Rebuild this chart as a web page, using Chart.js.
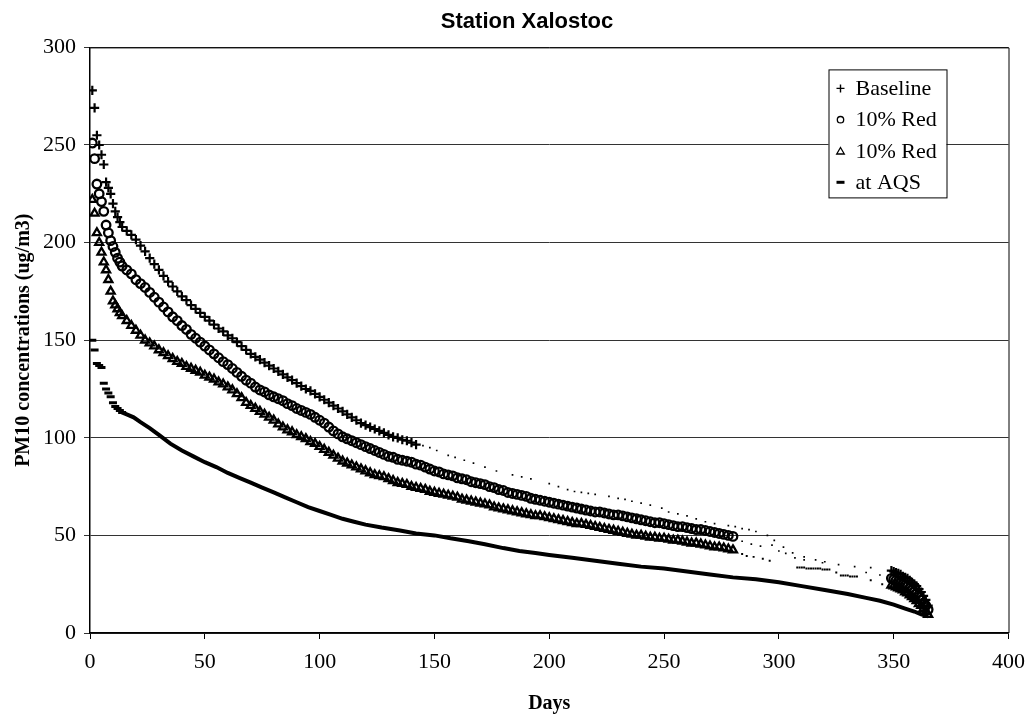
<!DOCTYPE html>
<html>
<head>
<meta charset="utf-8">
<title>Station Xalostoc</title>
<script src="https://cdn.jsdelivr.net/npm/chart.js@4.4.1/dist/chart.umd.min.js"></script>
<style>
  html, body { margin: 0; padding: 0; background: #fff; }
</style>
</head>
<body>
<canvas id="chart" width="1035" height="716"></canvas>
<script>
// ticks
var xTicks = [0, 50, 100, 150, 200, 250, 300, 350, 400];
var yTicks = [0, 50, 100, 150, 200, 250, 300];

// Baseline (+)
var baselineDays = [1,2,3,4,5,6,7,8,9,10,11,12,13,14,
  16,18,20,22,24,26,28,30,32,34,36,38,40,42,44,46,48,50,52,54,56,58,60,62,64,66,68,70,72,74,76,78,80,
  82,84,86,88,90,92,94,96,98,100,102,104,106,108,110,112,114,116,118,120,122,124,126,128,130,132,134,136,138,140,142,
  145,148,151,156,159,163,167,172,177,184,188,192,200,204,208,211,214,217,220,226,230,233,236,240,244,249,252,256,260,264,
  268,272,278,281,284,287,290,295,298,302,306,311,316,320,326,333,340,
  349,350,351,352,353,354,355,356,357,358,359,360,361,362,363,364,365];
var baselineValues = [278,269,255,250,245,240,231,228,225,220,216,213,210.5,208,
  206,204,201.5,198.5,195.5,192,189,186,183,180,177.5,175,172.5,170.5,168,166,164,162,160,158,156,154.5,152.5,151,149,147,145,143,141.5,140,138.5,137,135.5,
  134,132.5,131,129.5,128,126.5,125,124,122.5,121,119.5,118,116.5,115,113.5,112,110.5,109,107.5,106.5,105.5,104.5,103.5,102.5,101.5,100.5,100,99,98.5,97.5,96.5,
  96,95,93.5,91,90,88.5,87,85,83,81,80,79,76.5,75,73.5,72.5,72,71.5,71,70,69,68.5,67.5,66.5,65.5,64,62,61,60,58.5,
  57,56,55,54.5,53.5,53,52,50,47.5,44,41,39,37.5,36.5,35,34,33.5,
  32,31.5,31,30.5,30,29,28.5,28,27,26,25,24,22.5,21,19,17,14];

// 10% Red (o)
var redCircleDays = [1,2,3,4,5,6,7,8,9,10,11,12,13,14,
  16,18,20,22,24,26,28,30,32,34,36,38,40,42,44,46,48,50,52,54,56,58,60,62,64,66,68,70,72,74,76,78,80,82,84,86,88,90,92,94,96,98,
  100,102,104,106,108,110,112,114,116,118,120,122,124,126,128,130,132,134,136,138,140,142,144,146,148,150,152,154,156,158,160,
  162,164,166,168,170,172,174,176,178,180,182,184,186,188,190,192,194,196,198,200,202,204,206,208,210,212,214,216,218,220,
  222,224,226,228,230,232,234,236,238,240,242,244,246,248,250,252,254,256,258,260,262,264,266,268,270,272,274,276,278,280,
  284,288,292,297,300,303,307,311,319,338,344,
  349,350,351,352,353,354,355,356,357,358,359,360,361,362,363,364,365];
var redCircleValues = [251,243,230,225,221,216,209,205,201,198,195,192,190,188,
  186,184,181,179,177,174.5,172,169.5,167,164.5,162,160,157.5,155.5,153,151,149,147,145,143,141,139,137.5,135.5,133.5,131.5,129.5,128,126,124.5,
  123.5,122,121,120,119,117.5,116.5,115,114,113,112,110.5,109,107.5,105.5,103.5,102,100.5,99.5,98.5,97.5,96.5,95.5,94.5,93.5,92.5,91.5,90.5,90,89,
  88.5,88,87.5,86.5,86,85,84,83,82.5,81.5,81,80.5,79.5,79,78.5,77.5,77,76.5,76,75,74.5,73.5,73,72,71.5,71,70.5,70,69,68.5,
  68,67.5,67,66.5,66,65.5,65,64.5,64,63.5,63,62.5,62,62,61.5,61,60.5,60.5,60,59.5,59,58.5,58,57.5,57,56.5,56.5,56,55.5,55,
  54.5,54.5,54,53.5,53,53,52.5,52,51.5,51,50.5,50,49.5,
  47,45.5,44.5,45,42,40.8,38.5,37.5,36,31,29.7,
  28,27.5,27,26.5,26,25,24.5,24,23,22,21,20,18.5,17,15.5,14,12];

// 10% Red (triangle)
var redTriangleDays = [1,2,3,4,5,6,7,8,9,10,11,12,13,14,
  16,18,20,22,24,26,28,30,32,34,36,38,40,42,44,46,48,50,52,54,56,58,60,62,64,66,68,70,72,74,76,78,80,82,84,86,88,90,92,94,96,98,
  100,102,104,106,108,110,112,114,116,118,120,122,124,126,128,130,132,134,136,138,140,142,144,146,148,150,152,154,156,158,160,
  162,164,166,168,170,172,174,176,178,180,182,184,186,188,190,192,194,196,198,200,202,204,206,208,210,212,214,216,218,220,
  222,224,226,228,230,232,234,236,238,240,242,244,246,248,250,252,254,256,258,260,262,264,266,268,270,272,274,276,278,280,
  284,286,289,293,296,308,309,310,311,312,313,314,315,316,317,318,319,320,321,322,325,327,328,329,330,331,332,333,334,340,345,
  349,350,351,352,353,354,355,356,357,358,359,360,361,362,363,364,365];
var redTriangleValues = [222,215,205,200,195,190,186,181,175,170,168,166,164,162.5,
  160,157.5,155,152.5,150,148.5,147,145,143.5,142,140.5,139,138,136.5,135.5,134.5,133.5,132,131,130,128.5,127.5,126,124.5,122.5,120.5,118,116.5,115,113.5,
  112,110.5,109,107,105.5,104,103,101.5,100.5,99.5,98,97,95.5,94,92.5,91,89.5,88,87,86,85,84,83,82,81,80.5,80,79,78,77,
  76.5,76,75,74.5,74,73.5,72.5,72,71.5,71,70.5,70,69.5,68.5,68,67.5,67,66.5,66,65.5,64.5,64,63.5,63,62.5,62,61.5,61,60.5,60,
  60,59.5,59,58.5,58,57.5,57,56.5,56,56,55.5,55,54.5,54,53.5,53,52.5,52,51.5,51,50.5,50,50,49.5,49,49,48.5,48.5,48,47.5,
  47.5,47,46.5,46,46,45.5,45,44.5,44,44,43.5,43,42.5,
  40.5,39.5,39,38,37,33.5,33.5,33.5,33.5,33,33,33,33,33,33,33,32.5,32.5,32.5,32.5,31,29.5,29.5,29.5,29.5,29,29,29,29,27,25,
  24.5,24,23.5,23,22.5,22,21,20.5,19.5,18.5,17.5,16.5,15,14,12.5,11,9.5];

// at AQS (-)
var aqsDays = [1,2,3,4,5,6,7,8,9,10,11,12,13,14,16,19,22,26,30,35,40,45,50,55,60,65,70,75,80,85,90,95,100,105,110,115,120,
  127,135,142,150,157,165,172,180,187,194,200,210,220,230,240,250,260,270,280,290,300,310,320,330,338,344,350,355,359,362,365];
var aqsValues = [150,145,138,137,136,128,125,123,121,118,116,115,114,113,112,110.5,108,105,101.5,97,93.5,90.5,87.5,85,82,79.5,77,74.5,72,69.5,67,64.5,62.5,60.5,58.5,57,55.5,
  54,52.5,51,50,48.5,47,45.5,43.5,42,41,40,38.5,37,35.5,34,33,31.5,30,28.5,27.5,26,24,22,20,18,16.5,14.5,12.5,11,9.5,8.5];

var seriesLabels = ['Baseline', '10% Red', '10% Red', 'at AQS'];

function points(days, values) {
  return days.map(function(d, i) { return { x: d, y: values[i] }; });
}

// stretches where the scanned markers have faded to specks
function faintBetween(lo, hi) {
  return function(ctx) {
    var x = ctx.raw && ctx.raw.x;
    return x > lo && x < hi;
  };
}
var baseFaint = faintBetween(143, 348);
var redFaint = faintBetween(281, 348);

var serif = 'Liberation Serif, Times New Roman, serif';

var frame = {
  id: 'frame',
  afterDraw: function(chart) {
    var c = chart.ctx, a = chart.chartArea;
    c.save();
    c.strokeStyle = '#000';
    c.lineWidth = 1;
    c.beginPath();
    c.moveTo(a.left, a.top + 0.5);
    c.lineTo(a.right + 0.5, a.top + 0.5);
    c.lineTo(a.right + 0.5, a.bottom);
    c.stroke();
    c.restore();
  }
};

function legendMarker(c, kind, x, y) {
  c.strokeStyle = '#000';
  c.fillStyle = '#000';
  c.beginPath();
  if (kind === 0) {
    c.lineWidth = 1.4;
    c.moveTo(x - 4, y); c.lineTo(x + 4, y);
    c.moveTo(x, y - 4); c.lineTo(x, y + 4);
    c.stroke();
  } else if (kind === 1) {
    c.lineWidth = 1.3;
    c.arc(x, y, 3.2, 0, Math.PI * 2);
    c.stroke();
  } else if (kind === 2) {
    c.lineWidth = 1.3;
    c.moveTo(x, y - 3.5); c.lineTo(x + 3.8, y + 3); c.lineTo(x - 3.8, y + 3); c.closePath();
    c.stroke();
  } else {
    c.lineWidth = 3;
    c.moveTo(x - 4, y); c.lineTo(x + 4, y);
    c.stroke();
  }
}

var legendBox = {
  id: 'legendBox',
  afterDraw: function(chart) {
    var c = chart.ctx, a = chart.chartArea;
    var x0 = a.right - 180, y0 = a.top + 22, w = 118, h = 128;
    c.save();
    c.fillStyle = '#fff';
    c.fillRect(x0, y0, w, h);
    c.strokeStyle = '#000';
    c.lineWidth = 1;
    c.strokeRect(x0 + 0.5, y0 + 0.5, w, h);
    c.font = '22px ' + serif;
    c.textBaseline = 'middle';
    seriesLabels.forEach(function(label, i) {
      var y = y0 + 19 + i * 31.3;
      legendMarker(c, i, x0 + 12, y);
      c.fillStyle = '#000';
      c.fillText(label, x0 + 27, y + 1);
    });
    c.restore();
  }
};

var ctx = document.getElementById('chart').getContext('2d');

var chart = new Chart(ctx, {
  type: 'scatter',
  data: {
    datasets: [
      {
        label: seriesLabels[0],
        data: points(baselineDays, baselineValues),
        borderColor: '#000',
        backgroundColor: '#000',
        pointStyle: function(c) { return baseFaint(c) ? 'rect' : 'cross'; },
        pointRadius: function(c) { return baseFaint(c) ? 1.2 : 4.6; },
        pointBorderWidth: function(c) { return baseFaint(c) ? 0 : 2.2; },
        pointBackgroundColor: '#000'
      },
      {
        label: seriesLabels[1],
        data: points(redCircleDays, redCircleValues),
        borderColor: '#000',
        pointStyle: function(c) { return redFaint(c) ? 'rect' : 'circle'; },
        pointRadius: function(c) { return redFaint(c) ? 1.2 : 4.3; },
        pointBorderWidth: function(c) { return redFaint(c) ? 0 : 2.3; },
        pointBackgroundColor: function(c) { return redFaint(c) ? '#000' : 'rgba(0,0,0,0)'; }
      },
      {
        label: seriesLabels[2],
        data: points(redTriangleDays, redTriangleValues),
        borderColor: '#000',
        pointStyle: function(c) { return redFaint(c) ? 'rect' : 'triangle'; },
        pointRadius: function(c) { return redFaint(c) ? 1.4 : 4.6; },
        pointBorderWidth: function(c) { return redFaint(c) ? 0 : 2.3; },
        pointBackgroundColor: function(c) { return redFaint(c) ? '#000' : 'rgba(0,0,0,0)'; }
      },
      {
        label: seriesLabels[3],
        data: points(aqsDays, aqsValues),
        showLine: true,
        borderColor: '#000',
        borderWidth: 4,
        segment: {
          borderColor: function(c) { return c.p0.parsed.x < 13 ? 'rgba(0,0,0,0)' : '#000'; }
        },
        pointStyle: 'line',
        pointRadius: function(c) { return (c.raw && c.raw.x <= 14) ? 4 : 0; },
        pointBorderWidth: 3,
        pointBorderColor: '#000'
      }
    ]
  },
  options: {
    responsive: false,
    animation: false,
    layout: { padding: { left: 38, right: 19, top: 0, bottom: 0 } },
    plugins: {
      legend: { display: false },
      tooltip: { enabled: false },
      title: {
        display: true,
        text: 'Station Xalostoc',
        color: '#000',
        font: { family: 'Liberation Sans, Arial, sans-serif', size: 22, weight: 'bold' },
        padding: { top: 9, bottom: 12 }
      }
    },
    scales: {
      x: {
        type: 'linear',
        min: xTicks[0],
        max: xTicks[xTicks.length - 1],
        afterBuildTicks: function(s) { s.ticks = xTicks.map(function(v) { return { value: v }; }); },
        afterFit: function(s) { s.height = 83; },
        grid: { drawOnChartArea: false, color: '#000', tickLength: 6 },
        border: { color: '#000', width: 1.5 },
        ticks: { color: '#000', font: { family: serif, size: 22 }, padding: 10, maxRotation: 0 },
        title: {
          display: true,
          text: 'Days',
          color: '#000',
          font: { family: serif, size: 20, weight: 'bold' },
          padding: { top: 0, bottom: 0 }
        }
      },
      y: {
        min: yTicks[0],
        max: yTicks[yTicks.length - 1],
        afterBuildTicks: function(s) { s.ticks = yTicks.map(function(v) { return { value: v }; }); },
        afterFit: function(s) { s.width = 52; },
        grid: { color: '#333', lineWidth: 1, tickLength: 6 },
        border: { color: '#000', width: 1.5 },
        ticks: { color: '#000', font: { family: serif, size: 22 }, padding: 8 },
        title: {
          display: true,
          text: 'PM10 concentrations (ug/m3)',
          color: '#000',
          font: { family: serif, size: 20, weight: 'bold' },
          padding: { top: -26, bottom: 0 }
        }
      }
    }
  },
  plugins: [frame, legendBox]
});
</script>
</body>
</html>
